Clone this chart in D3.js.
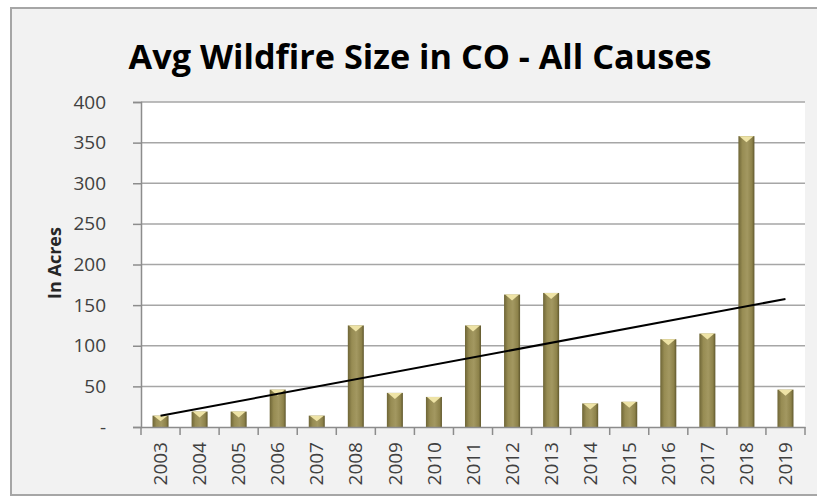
<!DOCTYPE html>
<html>
<head>
<meta charset="utf-8">
<script src="https://cdn.jsdelivr.net/npm/d3@7"></script>
<style>
  body { margin: 0; background: #fff; }
  svg { display: block; font-family: "Open Sans", sans-serif; }
</style>
</head>
<body>
<svg id="chart" width="817" height="500"></svg>
<script>
// data
var years = ["2003", "2004", "2005", "2006", "2007", "2008", "2009", "2010", "2011",
  "2012", "2013", "2014", "2015", "2016", "2017", "2018", "2019"];
var avgAcres = [14, 19, 19, 46, 14, 125, 42, 37, 125, 163, 165, 29, 31, 108, 115, 358, 46];
var yTicks = [0, 50, 100, 150, 200, 250, 300, 350, 400];

var svg = d3.select("#chart");
var plotLeft = 141, plotRight = 805, plotTop = 102, plotBottom = 427;

// chart background and frame
svg.append("rect")
  .attr("x", 11).attr("y", 8)
  .attr("width", 830).attr("height", 487)
  .attr("fill", "#f2f2f2")
  .attr("stroke", "#a6a6a6")
  .attr("stroke-width", 2);

var x = d3.scaleBand().domain(years).range([plotLeft, plotRight]).paddingInner(0.59).paddingOuter(0.295);
var y = d3.scaleLinear().domain([0, 400]).range([plotBottom, plotTop]);

// plot area
svg.append("rect")
  .attr("x", plotLeft).attr("y", plotTop)
  .attr("width", plotRight - plotLeft).attr("height", plotBottom - plotTop)
  .attr("fill", "#fff");

// gridlines
svg.append("g").selectAll("line")
  .data(yTicks.slice(1))
  .join("line")
  .attr("x1", plotLeft).attr("x2", plotRight)
  .attr("y1", function(d) { return y(d); })
  .attr("y2", function(d) { return y(d); })
  .attr("stroke", "#a6a6a6")
  .attr("stroke-width", 1.5);

// bar gradient
var defs = svg.append("defs");
var grad = defs.append("linearGradient").attr("id", "barGrad")
  .attr("x1", "0%").attr("x2", "100%").attr("y1", "0%").attr("y2", "0%");
grad.append("stop").attr("offset", "0%").attr("stop-color", "#6e6536");
grad.append("stop").attr("offset", "25%").attr("stop-color", "#978c53");
grad.append("stop").attr("offset", "55%").attr("stop-color", "#a39861");
grad.append("stop").attr("offset", "85%").attr("stop-color", "#8d824a");
grad.append("stop").attr("offset", "100%").attr("stop-color", "#5f572d");

var bars = svg.append("g").selectAll("g")
  .data(years)
  .join("g");

bars.append("rect")
  .attr("x", function(d) { return x(d); })
  .attr("y", function(d, i) { return y(avgAcres[i]); })
  .attr("width", x.bandwidth())
  .attr("height", function(d, i) { return y(0) - y(avgAcres[i]); })
  .attr("fill", "url(#barGrad)");

// bevelled top highlight
bars.append("path")
  .attr("d", function(d, i) {
    var x0 = x(d), w = x.bandwidth(), y0 = y(avgAcres[i]);
    var h = Math.min(6, (y(0) - y0) / 2);
    return "M" + (x0 + 1) + "," + y0 + "L" + (x0 + w - 1) + "," + y0 +
      "L" + (x0 + w / 2) + "," + (y0 + h) + "Z";
  })
  .attr("fill", "#eee3a6");

// trendline from least squares fit
var n = avgAcres.length;
var mx = d3.mean(d3.range(n)), my = d3.mean(avgAcres);
var slope = d3.sum(d3.range(n), function(i) { return (i - mx) * (avgAcres[i] - my); }) /
  d3.sum(d3.range(n), function(i) { return (i - mx) * (i - mx); });
var intercept = my - slope * mx;
var cx = function(i) { return x(years[i]) + x.bandwidth() / 2; };
svg.append("line")
  .attr("x1", cx(0)).attr("y1", y(intercept))
  .attr("x2", cx(n - 1)).attr("y2", y(intercept + slope * (n - 1)))
  .attr("stroke", "#000")
  .attr("stroke-width", 2);

// y axis
var yAxis = svg.append("g")
  .attr("transform", "translate(" + plotLeft + ",0)")
  .call(d3.axisLeft(y).tickValues(yTicks).tickSize(8).tickPadding(27)
    .tickFormat(function(d) { return d === 0 ? "-" : d; }));
yAxis.select(".domain").attr("stroke", "#8c8c8c").attr("stroke-width", 1.5);
yAxis.selectAll(".tick line").attr("stroke", "#8c8c8c").attr("stroke-width", 1.5);
yAxis.selectAll(".tick text")
  .attr("font-size", 19)
  .attr("font-family", "Open Sans, sans-serif")
  .attr("fill", "#404040");

// x axis
var xAxis = svg.append("g")
  .attr("transform", "translate(0," + plotBottom + ")")
  .call(d3.axisBottom(x).tickSize(0).tickPadding(0));
xAxis.select(".domain").attr("stroke", "#8c8c8c").attr("stroke-width", 1.5);
xAxis.selectAll(".tick text")
  .attr("font-size", 19)
  .attr("font-family", "Open Sans, sans-serif")
  .attr("fill", "#404040")
  .attr("transform", "translate(0,15) rotate(-90)")
  .attr("text-anchor", "end")
  .attr("dx", 0)
  .attr("dy", "0.35em")
  .attr("y", 0);

// category boundary ticks
svg.append("g").selectAll("line")
  .data(d3.range(n + 1))
  .join("line")
  .attr("x1", function(i) { return plotLeft + i * x.step(); })
  .attr("x2", function(i) { return plotLeft + i * x.step(); })
  .attr("y1", plotBottom).attr("y2", plotBottom + 8)
  .attr("stroke", "#8c8c8c")
  .attr("stroke-width", 1.5);

// axis title
svg.append("text")
  .attr("transform", "translate(61,263) rotate(-90)")
  .attr("text-anchor", "middle")
  .attr("font-size", 18)
  .attr("font-weight", 700)
  .attr("fill", "#262626")
  .text("In Acres");

// chart title
var title = svg.append("text")
  .attr("x", 420).attr("y", 69)
  .attr("text-anchor", "middle")
  .attr("font-size", 34)
  .attr("font-weight", 700)
  .attr("fill", "#000")
  .text("Avg Wildfire Size in CO - All Causes");
var tw = title.node().getComputedTextLength();
title.attr("font-size", 34 * 583 / tw);
</script>
</body>
</html>
